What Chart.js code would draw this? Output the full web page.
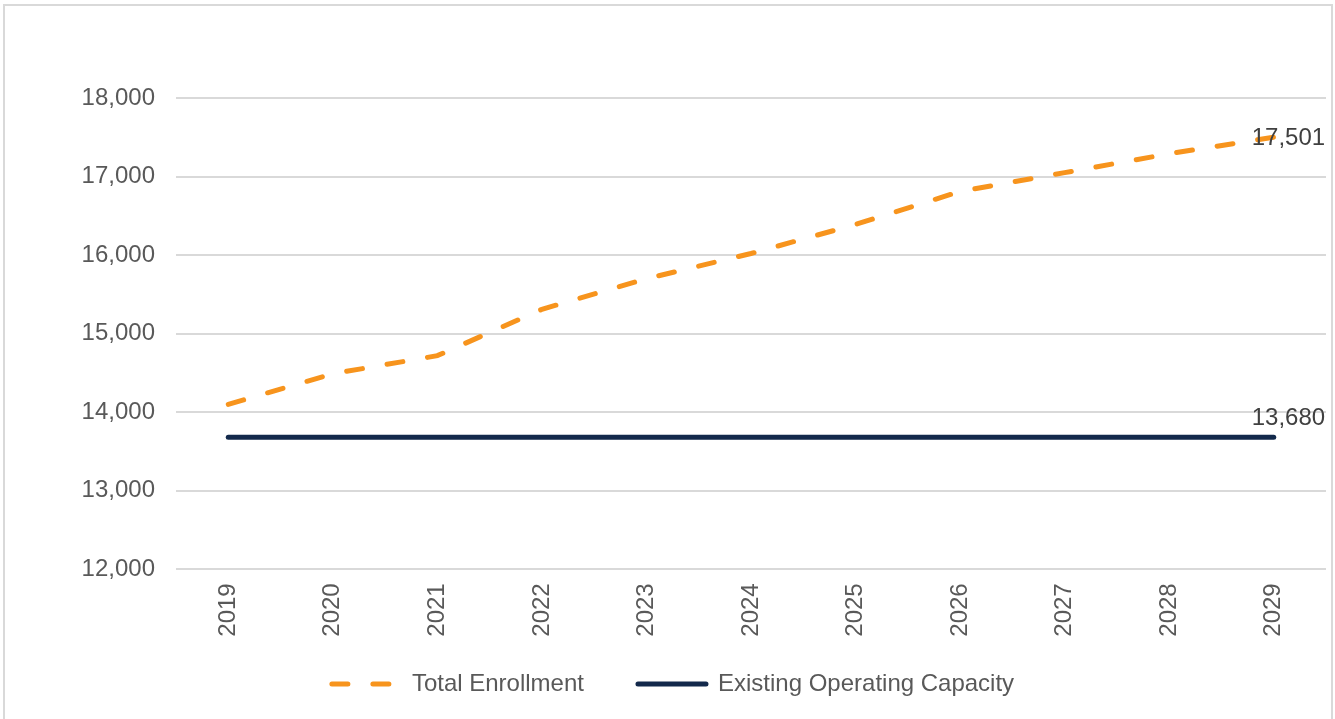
<!DOCTYPE html>
<html>
<head>
<meta charset="utf-8">
<script src="https://cdn.jsdelivr.net/npm/chart.js@4.4.1/dist/chart.umd.min.js"></script>
<style>
    html, body { margin: 0; padding: 0; background: #fff; overflow: hidden; }
    .frame {
        position: absolute; left: 3px; top: 4px; width: 1330px; height: 800px;
        border: 2px solid #d9d9d9; box-sizing: border-box;
    }
    .chart-box { position: absolute; left: 0; top: 0; width: 1335px; height: 719px; }
</style>
</head>
<body>
<div class="frame"></div>
<div class="chart-box"><canvas id="enrollChart"></canvas></div>
<script>
// Chart data
const years = ['2019', '2020', '2021', '2022', '2023', '2024', '2025', '2026', '2027', '2028', '2029'];
const totalEnrollment = [14100, 14490, 14720, 15310, 15700, 16020, 16390, 16810, 17050, 17290, 17501];
const operatingCapacity = [13680, 13680, 13680, 13680, 13680, 13680, 13680, 13680, 13680, 13680, 13680];
const yTicks = [12000, 13000, 14000, 15000, 16000, 17000, 18000];

const FONT = '"Liberation Sans", Arial, sans-serif';
const AXIS_GREY = '#595959';

// value label at the last point of each series
const endLabels = {
    id: 'endLabels',
    afterDatasetsDraw(chart) {
        const ctx = chart.ctx;
        ctx.save();
        ctx.font = '24px ' + FONT;
        ctx.fillStyle = '#404040';
        ctx.textAlign = 'left';
        ctx.textBaseline = 'middle';
        chart.data.datasets.forEach((ds, i) => {
            const meta = chart.getDatasetMeta(i);
            const last = meta.data[meta.data.length - 1];
            if (!last) return;
            const val = ds.data[ds.data.length - 1];
            ctx.fillText(val.toLocaleString('en-US'), last.x + ds.labelDx, last.y + ds.labelDy);
        });
        ctx.restore();
    }
};

// legend entries use the line style of the dataset (dash, caps, width)
const legendItems = (chart) => {
    const items = Chart.defaults.plugins.legend.labels.generateLabels(chart);
    return items.map((item, i) => {
        const ds = chart.data.datasets[item.datasetIndex];
        item.lineDash = ds.borderDash || [];
        item.lineCap = 'round';
        item.lineWidth = ds.borderWidth;
        item.strokeStyle = ds.borderColor;
        // a little extra room after the first entry
        if (i === 0) item.text = ds.label + '\u00A0\u00A0\u00A0';
        return item;
    });
};

document.addEventListener("DOMContentLoaded", function() {
    const ctx = document.getElementById('enrollChart').getContext('2d');

    new Chart(ctx, {
        type: 'line',
        data: {
            labels: years,
            datasets: [{
                label: 'Total Enrollment',
                data: totalEnrollment,
                borderColor: '#F7941D',
                backgroundColor: '#F7941D',
                borderWidth: 5,
                borderDash: [16, 25],
                borderCapStyle: 'round',
                tension: 0,
                pointRadius: 0,
                labelDx: -22,
                labelDy: 1
            }, {
                label: 'Existing Operating Capacity',
                data: operatingCapacity,
                borderColor: '#13294B',
                backgroundColor: '#13294B',
                borderWidth: 5,
                borderCapStyle: 'round',
                tension: 0,
                pointRadius: 0,
                labelDx: -22,
                labelDy: -19
            }]
        },
        options: {
            responsive: true,
            maintainAspectRatio: false,
            animation: false,
            layout: { padding: { left: 20, right: 9, top: 98, bottom: 13 } },
            plugins: {
                tooltip: { enabled: false },
                legend: {
                    position: 'bottom',
                    labels: {
                        usePointStyle: true,
                        pointStyle: 'line',
                        pointStyleWidth: 68,
                        padding: 34,
                        color: AXIS_GREY,
                        font: { family: FONT, size: 24 },
                        generateLabels: legendItems
                    }
                }
            },
            scales: {
                x: {
                    offset: true,
                    grid: { display: false, drawTicks: false },
                    border: { display: false },
                    ticks: {
                        autoSkip: false,
                        maxRotation: 90,
                        minRotation: 90,
                        padding: 14,
                        color: AXIS_GREY,
                        font: { family: FONT, size: 24 }
                    },
                    afterFit: (scale) => { scale.height = 68.7; }
                },
                y: {
                    min: yTicks[0],
                    max: yTicks[yTicks.length - 1],
                    afterBuildTicks: (scale) => { scale.ticks = yTicks.map(v => ({ value: v })); },
                    grid: { color: '#d9d9d9', lineWidth: 2, drawTicks: false },
                    border: { display: false },
                    ticks: {
                        padding: 21,
                        color: AXIS_GREY,
                        font: { family: FONT, size: 24 },
                        callback: (v) => v.toLocaleString('en-US')
                    },
                    afterFit: (scale) => { scale.width = 156; }
                }
            }
        },
        plugins: [endLabels]
    });
});
</script>
</body>
</html>
